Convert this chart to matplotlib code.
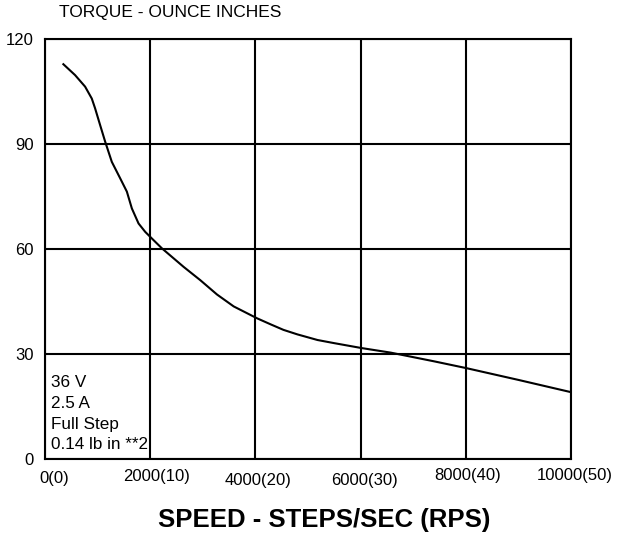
import matplotlib
matplotlib.use('Agg')
import matplotlib.pyplot as plt
import matplotlib.transforms as mtransforms

plt.rcParams['font.family'] = ['Liberation Sans', 'DejaVu Sans']

# torque curve (steps/sec, oz-in)
speed = [349, 571, 762, 889, 952, 1048, 1143, 1270, 1429, 1556, 1651, 1778,
         1905, 2032, 2222, 2635, 2952, 3270, 3587, 4032, 4286, 4533, 4800,
         5181, 5500, 6019, 6571, 7400, 8000, 9000, 10000]
torque = [112.8, 109.7, 106.4, 103.0, 100.2, 95.4, 90.7, 84.9, 80.2, 76.4,
          71.6, 67.3, 64.9, 63.0, 60.2, 54.9, 51.1, 47.0, 43.6, 40.2, 38.5,
          36.9, 35.6, 34.0, 33.1, 31.7, 30.4, 27.9, 26.0, 22.6, 19.1]

x_ticks = [0, 2000, 4000, 6000, 8000, 10000]
x_labels = ['0(0)', '2000(10)', '4000(20)', '6000(30)', '8000(40)', '10000(50)']
y_ticks = [0, 30, 60, 90, 120]
notes = ['36 V', '2.5 A', 'Full Step', '0.14 lb in **2']

fig = plt.figure(figsize=(6.2, 5.39), dpi=100)
ax = fig.add_axes([0.0726, 0.1484, 0.8484, 0.7792])

ax.plot(speed, torque, color='black', lw=1.5, solid_joinstyle='round')
ax.set_xlim(0, 10000)
ax.set_ylim(0, 120)

ax.set_xticks(x_ticks)
ax.set_xticklabels(x_labels)
ax.set_yticks(y_ticks)
ax.tick_params(length=0, labelsize=12, pad=8)
ax.tick_params(axis='x', pad=8)
ax.grid(True, color='black', lw=1.5)
for s in ax.spines.values():
    s.set_linewidth(1.5)

# the x labels in the picture are staggered a little
shifts = [(9, -1), (6, 1), (3, -3), (4, -3), (2, 2), (4, 2)]
for lab, (dx, dy) in zip(ax.get_xticklabels(), shifts):
    lab.set_transform(lab.get_transform() +
                      mtransforms.ScaledTranslation(dx / 100, dy / 100, fig.dpi_scale_trans))

# motor notes, one line each, in the lower left cell
for i, line in enumerate(notes):
    ax.text(0.0115, 0.181 - i * 0.049, line, transform=ax.transAxes,
            fontsize=12.3, va='center', ha='left')

fig.text(170 / 620, 1 - 12 / 539, 'TORQUE - OUNCE INCHES', fontsize=12.5,
         ha='center', va='center')
fig.text(324 / 620, 1 - 520 / 539, 'SPEED - STEPS/SEC (RPS)', fontsize=18.5,
         fontweight='bold', ha='center', va='center')

fig.savefig('out.png', dpi=100)
